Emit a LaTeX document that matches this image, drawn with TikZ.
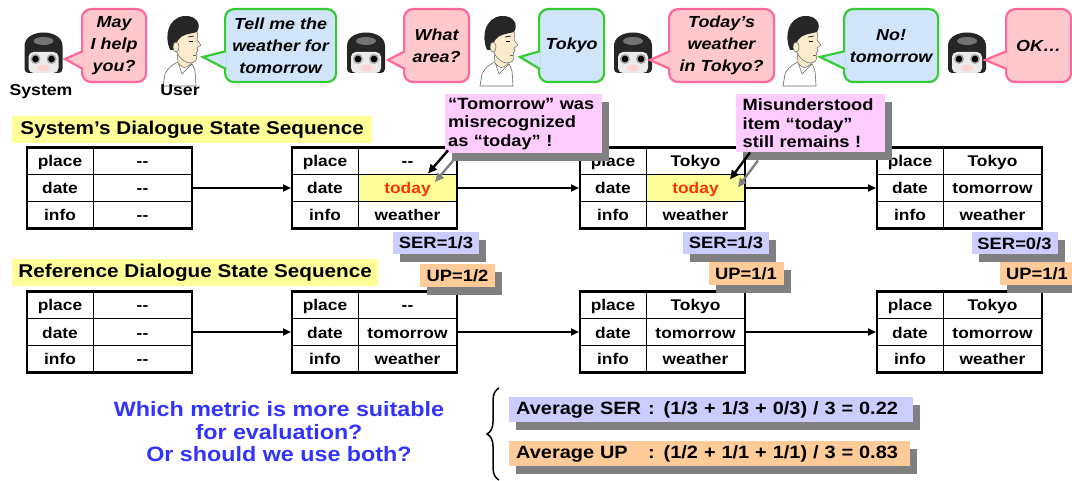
\documentclass[tikz,border=0pt]{standalone}
\usepackage{fontspec}
\setmainfont{Liberation Sans}[FakeStretch=1.12]
\usetikzlibrary{positioning,calc,shadows,arrows.meta,decorations.pathreplacing}

\definecolor{bubpink}{RGB}{255,200,204}
\definecolor{bubpinkline}{RGB}{255,102,153}
\definecolor{bubblue}{RGB}{208,228,250}
\definecolor{bubgreen}{RGB}{51,204,51}
\definecolor{notepink}{RGB}{255,204,255}
\definecolor{hiyellow}{RGB}{255,255,153}
\definecolor{serblue}{RGB}{204,204,255}
\definecolor{uporange}{RGB}{255,204,153}
\definecolor{todayred}{RGB}{255,51,0}
\definecolor{askblue}{RGB}{51,51,255}
\definecolor{shade}{RGB}{128,128,128}
\definecolor{skin}{RGB}{250,235,205}

\tikzset{
  slotcell/.style={draw, line width=0.8pt, outer sep=0pt, inner sep=0pt, minimum height=27pt,
    text height=13.5pt, text depth=1.5pt, font=\fontsize{15.5}{18}\selectfont\bfseries},
  keycell/.style={slotcell, minimum width=66pt},
  valcell/.style={slotcell, minimum width=99pt},
  saybox/.style={line width=2.2pt, rounded corners=9pt, inner sep=0pt, minimum height=73pt,
    anchor=north west, align=center, font=\fontsize{16}{22}\selectfont\bfseries\itshape},
  sysbub/.style={saybox, draw=bubpinkline, fill=bubpink},
  userbub/.style={saybox, draw=bubgreen, fill=bubblue},
  sysbubtail/.style={draw=bubpinkline, fill=bubpink, line width=2.2pt},
  userbubtail/.style={draw=bubgreen, fill=bubblue, line width=2.2pt},
  namelabel/.style={anchor=base, font=\fontsize{15.8}{18}\selectfont\bfseries},
  heading/.style={fill=hiyellow, inner sep=0pt, minimum height=27pt, anchor=north west,
    font=\fontsize{18.5}{20}\selectfont\bfseries},
  flatshadow/.style={drop shadow={shadow xshift=7pt, shadow yshift=-8pt, fill=shade, opacity=1}},
  note/.style={fill=notepink, anchor=north west, align=left, inner sep=0pt, flatshadow,
    font=\fontsize{16.3}{18.5}\selectfont\bfseries},
  badge/.style={inner sep=0pt, minimum height=22pt, flatshadow,
    font=\fontsize{16.4}{18}\selectfont\bfseries},
  serbadge/.style={badge, fill=serblue, minimum width=86pt},
  upbadge/.style={badge, fill=uporange, minimum width=75pt, minimum height=23pt},
  avgbox/.style={anchor=north west, inner xsep=7pt, inner ysep=0pt, minimum height=25pt,
    align=left, flatshadow, font=\fontsize{17.8}{20}\selectfont\bfseries},
  flow/.style={line width=1.8pt, -{Triangle[length=8pt,width=7pt]}, shorten >=1pt},
  pointer/.style={line width=2.4pt, -{Triangle[length=9pt,width=8pt]}},
  robot/.pic={
    \fill[black!85, rounded corners=4pt] (-19,20) -- (-19,-3) .. controls (-19,-25) and (19,-25) .. (19,-3) -- (19,20) -- cycle;
    \fill[black!55] (0,-12) ellipse (10 and 4);
    \fill[black!8, rounded corners=5pt] (-15,-1) rectangle (15,20);
    \fill[pink!70] (0,15) ellipse (6 and 3.5);
    \fill[black!35] (-8,6) circle (5);
    \fill[black!35] (8,6) circle (5);
    \fill[black] (-8,6) circle (3.3);
    \fill[black] (8,6) circle (3.3);
  },
  person/.pic={
    \filldraw[fill=white, draw=black!60, line width=0.6pt] (-21,44) -- (-19,32) .. controls (-15,24) and (-10,22) .. (-6,20) -- (8,22) .. controls (11,26) .. (12,44) -- cycle;
    \draw[black!60, line width=0.6pt] (-6,20) -- (-2,32) -- (8,22);
    \filldraw[fill=skin, draw=black!60, line width=0.5pt] (-7,8) -- (-6,21) .. controls (0,27) .. (7,22) -- (6,10) -- cycle;
    \filldraw[fill=skin, draw=black!60, line width=0.5pt] (-10,-6) .. controls (-11,8) and (-4,20) .. (6,21) .. controls (12,20) .. (13,13) -- (12,11) -- (14,9) -- (13,6) -- (17,3) -- (13,-2) .. controls (14,-8) .. (12,-12) -- cycle;
    \fill[black!85] (-14,8) .. controls (-20,-6) and (-16,-24) .. (0,-26) .. controls (12,-27) and (18,-18) .. (13,-10) .. controls (6,-8) and (-2,-8) .. (-6,-2) .. controls (-8,2) .. (-9,8) -- cycle;
    \filldraw[fill=skin, draw=black!60, line width=0.5pt] (-8,5) ellipse (3 and 5);
    \draw[line width=0.8pt] (5,-1) -- (9,-1);
    \draw[line width=0.6pt] (4,-5) -- (10,-6);
    \draw[black!60, line width=0.6pt] (9,13) -- (12,13);
  }
}

\newcommand{\saybubble}[6]{%
  \node[#1, minimum width=#4] (#2) at (#3) {#6};
  \filldraw[#1tail] ($(#2.west)+(2,5.5)$) -- (#5) -- ($(#2.west)+(2,23.5)$);
}

\newcommand{\statetable}[6][]{%
  \node[keycell, anchor=north west] (#2-p) at (#3) {place};
  \node[valcell, right=0pt of #2-p] (#2-pv) {#4};
  \node[keycell, below=0pt of #2-p] (#2-d) {date};
  \node[valcell, right=0pt of #2-d, #1] (#2-dv) {#5};
  \node[keycell, below=0pt of #2-d] (#2-i) {info};
  \node[valcell, right=0pt of #2-i] (#2-iv) {#6};
  \draw[line width=2.4pt] (#2-p.north west) rectangle (#2-iv.south east);
}

\begin{document}
\begin{tikzpicture}[x=1pt, y=-1pt]
    \useasboundingbox (0,0) rectangle (1072,481);

    \coordinate (robotA) at (43.5,53);
    \coordinate (robotB) at (366,53);
    \coordinate (robotC) at (633,53);
    \coordinate (robotD) at (967,53);
    \coordinate (userA) at (184,42);
    \coordinate (userB) at (501,42);
    \coordinate (userC) at (804,42);
    \pic at (robotA) {robot};
    \pic at (robotB) {robot};
    \pic at (robotC) {robot};
    \pic at (robotD) {robot};
    \pic at (userA) {person};
    \pic at (userB) {person};
    \pic at (userC) {person};
    \node[namelabel] (syslabel) at (41,96) {System};
    \node[namelabel] (userlabel) at (180,96) {User};

    \saybubble{sysbub}{bA}{81,8}{64pt}{$(robotA)+(21.5,6)$}{May\\I help\\you?}
    \saybubble{userbub}{bB}{224,8}{111pt}{$(userA)+(19,15)$}{Tell me the\\weather for\\tomorrow}
    \saybubble{sysbub}{bC}{403,8}{65pt}{$(robotB)+(22,7)$}{What\\area?}
    \saybubble{userbub}{bD}{538,8}{65pt}{$(userB)+(19,15)$}{Tokyo}
    \saybubble{sysbub}{bE}{668,8}{105pt}{$(robotC)+(17,7)$}{Today’s\\weather\\in Tokyo?}
    \saybubble{userbub}{bF}{843,8}{94pt}{$(userC)+(16,15)$}{No!\\tomorrow}
    \saybubble{sysbub}{bG}{1005,8}{65pt}{$(robotD)+(18,7)$}{OK…}

    \node[heading, minimum width=360pt] (syshead) at (12,116) {System’s Dialogue State Sequence};
    \node[heading, minimum width=366pt] (refhead) at (12,259) {Reference Dialogue State Sequence};

    \statetable{s1}{27,147.5}{-{}-}{-{}-}{-{}-}
    \statetable[fill=hiyellow, text=todayred]{s2}{292,147.5}{-{}-}{today}{weather}
    \statetable[fill=hiyellow, text=todayred]{s3}{580,147.5}{Tokyo}{today}{weather}
    \statetable{s4}{877,147.5}{Tokyo}{tomorrow}{weather}
    \draw[flow] (s1-dv.east) -- (s2-d.west);
    \draw[flow] (s2-dv.east) -- (s3-d.west);
    \draw[flow] (s3-dv.east) -- (s4-d.west);

    \statetable{r1}{27,291.5}{-{}-}{-{}-}{-{}-}
    \statetable{r2}{292,291.5}{-{}-}{tomorrow}{weather}
    \statetable{r3}{580,291.5}{Tokyo}{tomorrow}{weather}
    \statetable{r4}{877,291.5}{Tokyo}{tomorrow}{weather}
    \draw[flow] (r1-dv.east) -- (r2-d.west);
    \draw[flow] (r2-dv.east) -- (r3-d.west);
    \draw[flow] (r3-dv.east) -- (r4-d.west);

    \node[serbadge] (ser2) at (436,243) {SER=1/3};
    \node[upbadge] (up2) at (457.5,275.5) {UP=1/2};
    \node[serbadge] (ser3) at (726,243) {SER=1/3};
    \node[upbadge] (up3) at (746,274) {UP=1/1};
    \node[serbadge] (ser4) at (1014.5,243.5) {SER=0/3};
    \node[upbadge] (up4) at (1037,274) {UP=1/1};

    \node[note, minimum width=157pt, minimum height=59pt, text width=151pt] (misrec) at (445,94)
        {“Tomorrow” was\\misrecognized\\as “today” !};
    \node[note, minimum width=149pt, minimum height=58pt, text width=136pt] (remain) at (736,94)
        {Misunderstood\\item “today”\\still remains !};
    \draw[pointer, draw=shade] ($(misrec.south west)+(10,5)$) -- ($(s2-dv.north east)+(-22,7.5)$);
    \draw[pointer] ($(misrec.south west)+(3,-3)$) -- ($(s2-dv.north east)+(-29,-1)$);
    \draw[pointer, draw=shade] ($(remain.south west)+(22,8)$) -- ($(remain.south west)+(2,35)$);
    \draw[pointer] ($(remain.south west)+(14,0)$) -- ($(s3-dv.north east)+(-15,5)$);

    \node[align=center, text=askblue, font=\fontsize{20.8}{22.5}\selectfont\bfseries] (ask) at (279,432)
        {Which metric is more suitable\\for evaluation?\\Or should we use both?};
    \coordinate (bracetop) at (499,388);
    \coordinate (bracebot) at (499,480);
    \draw[decorate, decoration={brace, amplitude=12pt}, line width=1.5pt] (bracebot) -- (bracetop);
    \node[avgbox, fill=serblue, text width=390pt] (avgser) at (509,397)
        {\makebox[132pt][l]{Average SER}: (1/3 + 1/3 + 0/3) / 3 = 0.22};
    \node[avgbox, fill=uporange, text width=387pt] (avgup) at (509,441)
        {\makebox[132pt][l]{Average UP}: (1/2 + 1/1 + 1/1) / 3 = 0.83};
\end{tikzpicture}
\end{document}
